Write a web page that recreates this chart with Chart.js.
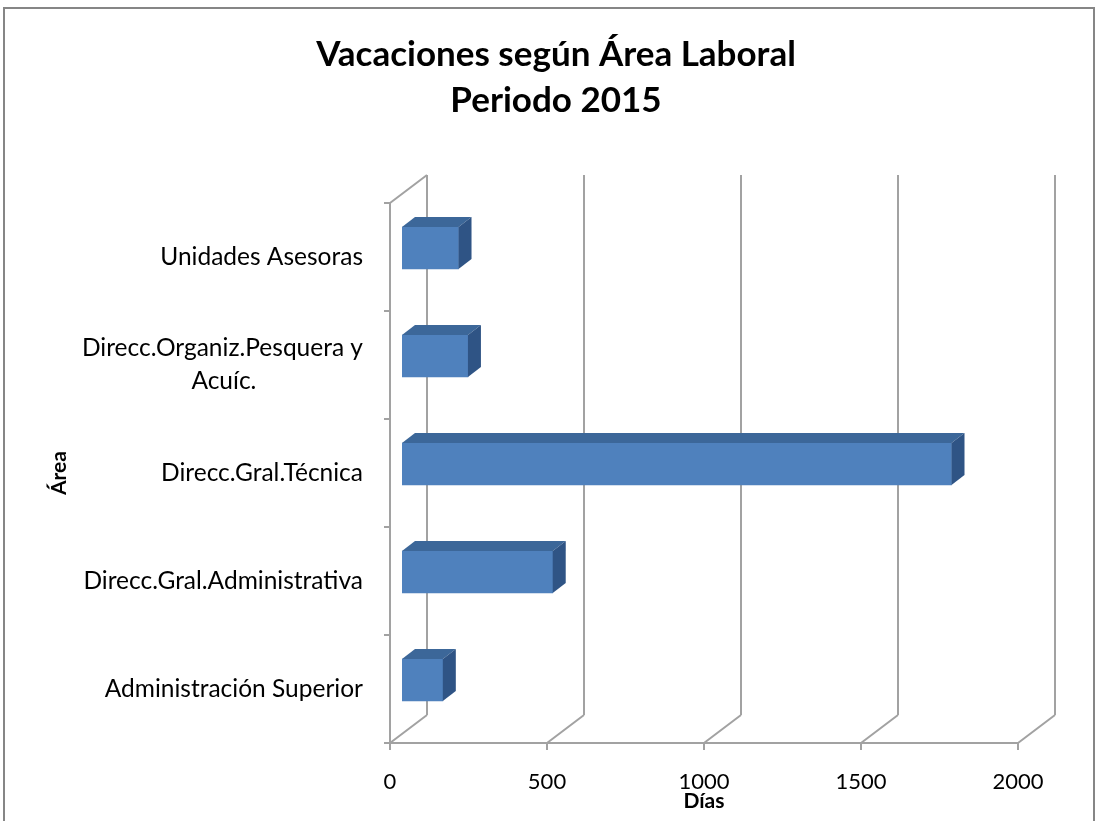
<!DOCTYPE html>
<html>
<head>
<meta charset="utf-8">
<title>Vacaciones según Área Laboral</title>
<script src="https://cdn.jsdelivr.net/npm/chart.js@4.4.1/dist/chart.umd.min.js"></script>
<style>
  html, body { margin: 0; padding: 0; background: #fff; }
  canvas { display: block; }
</style>
</head>
<body>
<canvas id="chart" width="1098" height="821"></canvas>
<script>
// datos (dias de vacaciones por area)
const areas = [
    'Unidades Asesoras',
    'Direcc.Organiz.Pesquera y Acuíc.',
    'Direcc.Gral.Técnica',
    'Direcc.Gral.Administrativa',
    'Administración Superior'
];
const dias = [180, 210, 1750, 480, 130];
const xTicks = [0, 500, 1000, 1500, 2000];

const labelFont = '24.5px Lato, "Open Sans", sans-serif';

// etiqueta de dos lineas, segunda linea centrada bajo la primera
function wrapLabel(txt) {
    if (txt !== 'Direcc.Organiz.Pesquera y Acuíc.') return txt;
    const c = document.createElement('canvas').getContext('2d');
    c.font = labelFont;
    const a = 'Direcc.Organiz.Pesquera y', b = 'Acuíc.';
    const gap = (c.measureText(a).width - c.measureText(b).width) / 2;
    const n = Math.round(gap / c.measureText('\u00a0').width);
    return [a, b + '\u00a0'.repeat(n)];
}

const depth = { dx: 37, dy: -28 };   // fondo del grafico 3D
const barShift = { dx: 12, dy: -9 };  // barras a un tercio de profundidad
const barDepth = { dx: 13, dy: -10 };
const wallColor = '#a2a2a2';

const box3d = {
    id: 'box3d',
    beforeDraw(chart) {
        const c = chart.ctx;
        c.save();
        c.fillStyle = '#fff';
        c.fillRect(0, 0, chart.width, chart.height);
        c.strokeStyle = '#868686';
        c.lineWidth = 2;
        c.strokeRect(4, 8, 1090, 830);
        c.restore();
    },
    beforeDatasetsDraw(chart) {
        const c = chart.ctx;
        const xs = chart.scales.x;
        const a = chart.chartArea;
        c.save();
        c.strokeStyle = wallColor;
        c.lineWidth = 2;
        c.beginPath();
        xTicks.forEach(v => {
            const px = xs.getPixelForValue(v);
            // linea de fondo
            c.moveTo(px + depth.dx, a.top + depth.dy);
            c.lineTo(px + depth.dx, a.bottom + depth.dy);
            // piso
            c.moveTo(px, a.bottom);
            c.lineTo(px + depth.dx, a.bottom + depth.dy);
            // marca del eje
            c.moveTo(px, a.bottom);
            c.lineTo(px, a.bottom + 7);
        });
        c.moveTo(a.left, a.top);
        c.lineTo(a.left + depth.dx, a.top + depth.dy);
        c.moveTo(a.left, a.top);
        c.lineTo(a.left, a.bottom);
        c.lineTo(a.right, a.bottom);
        const step = (a.bottom - a.top) / areas.length;
        for (let i = 0; i <= areas.length; i++) {
            const py = a.top + i * step;
            c.moveTo(a.left - 6, py);
            c.lineTo(a.left, py);
        }
        c.stroke();
        c.restore();

        c.save();
        c.translate(barShift.dx, barShift.dy);
    },
    afterDatasetsDraw(chart) {
        const c = chart.ctx;
        const meta = chart.getDatasetMeta(0);
        meta.data.forEach(bar => {
            const p = bar.getProps(['x', 'y', 'base', 'height'], true);
            const t = p.y - p.height / 2, b = p.y + p.height / 2;
            c.fillStyle = '#3c6799';
            c.beginPath();
            c.moveTo(p.base, t);
            c.lineTo(p.x, t);
            c.lineTo(p.x + barDepth.dx, t + barDepth.dy);
            c.lineTo(p.base + barDepth.dx, t + barDepth.dy);
            c.closePath();
            c.fill();
            c.fillStyle = '#2f5485';
            c.beginPath();
            c.moveTo(p.x, t);
            c.lineTo(p.x + barDepth.dx, t + barDepth.dy);
            c.lineTo(p.x + barDepth.dx, b + barDepth.dy);
            c.lineTo(p.x, b);
            c.closePath();
            c.fill();
        });
        c.restore();
    }
};

const ctx = document.getElementById('chart');
const chart = new Chart(ctx, {
    type: 'bar',
    data: {
        labels: areas,
        datasets: [{
            label: 'Días',
            data: dias,
            backgroundColor: '#4f81bd',
            borderWidth: 0,
            barThickness: 42,
        }]
    },
    options: {
        indexAxis: 'y',
        responsive: false,
        animation: false,
        layout: {
            padding: { left: 14, right: 0, top: 0, bottom: 0 }
        },
        plugins: {
            legend: { display: false },
            tooltip: { enabled: false },
            title: {
                display: true,
                text: ['Vacaciones según Área Laboral', 'Periodo 2015'],
                color: '#000',
                font: { family: 'Lato, "Open Sans", sans-serif', size: 35, weight: 'bold', lineHeight: 1.3 },
                padding: { top: 32, bottom: 80 }
            }
        },
        scales: {
            x: {
                min: 0,
                max: 2000,
                afterBuildTicks(scale) {
                    scale.ticks = xTicks.map(v => ({ value: v }));
                },
                afterFit(scale) { scale.height = 78; },
                grid: { display: false, drawTicks: false },
                border: { display: false },
                ticks: {
                    color: '#000',
                    font: { family: 'Lato, "Open Sans", sans-serif', size: 22 },
                    padding: 26,
                    maxRotation: 0,
                    callback(value) { return String(value); }
                },
                title: {
                    display: true,
                    text: 'Días',
                    color: '#000',
                    font: { family: 'Lato, "Open Sans", sans-serif', size: 21, weight: 'bold', lineHeight: 1.2 },
                    padding: { top: 0, bottom: 7 }
                }
            },
            y: {
                afterFit(scale) { scale.width = 376; },
                grid: { display: false, drawTicks: false },
                border: { display: false },
                ticks: {
                    color: '#000',
                    font: { family: 'Lato, "Open Sans", sans-serif', size: 24.5, lineHeight: 1.35 },
                    padding: 27,
                    callback(value, index) { return wrapLabel(areas[index]); }
                },
                title: {
                    display: true,
                    text: 'Área',
                    color: '#000',
                    font: { family: 'Lato, "Open Sans", sans-serif', size: 21, weight: 'bold', lineHeight: 1.2 },
                    padding: { top: 33, bottom: 0 }
                }
            },
            // margen derecho vacio (deja sitio para la pared del fondo)
            yRight: {
                type: 'category',
                axis: 'y',
                position: 'right',
                afterFit(scale) { scale.width = 80; },
                grid: { display: false, drawTicks: false },
                border: { display: false },
                ticks: { display: false }
            }
        }
    },
    plugins: [box3d]
});
</script>
</body>
</html>
